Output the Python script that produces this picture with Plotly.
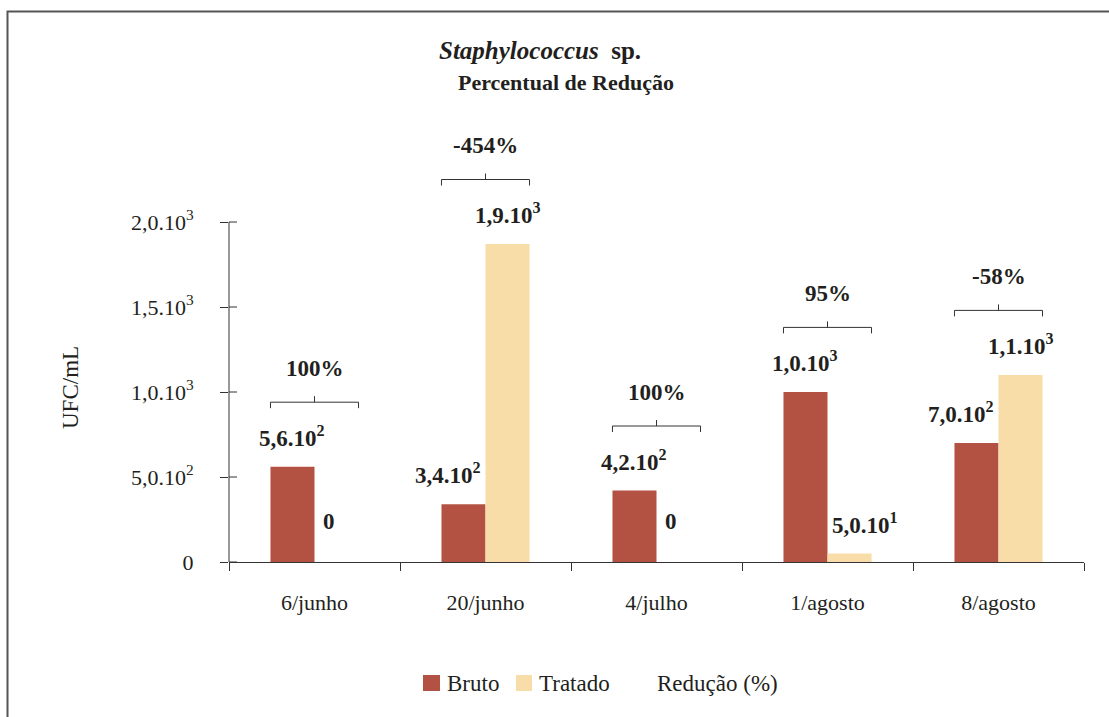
import math
import plotly.graph_objects as go

datas = ["6/junho", "20/junho", "4/julho", "1/agosto", "8/agosto"]
bruto = [560, 340, 420, 1000, 700]
tratado = [0, 1870, 0, 50, 1100]
reducao = [100, -454, 100, 95, -58]
y_ticks = [0, 500, 1000, 1500, 2000]

cor_bruto = '#B35243'
cor_tratado = '#F8DDA9'
cor_texto = '#231F20'
cor_eixo = '#333333'
fonte = 'Liberation Serif, Times New Roman, serif'

W, H = 1109, 717
L, R, T, B = 229, 25, 100, 155
# 85 px for every 500 UFC/mL, same scale as the original
Y_MAX = (H - T - B) * 500 / 85
BAR_GAP = 0.485
MEIA = (1 - BAR_GAP) / 2   # width of one bar, category units


def px_x(p):
    return (p - L) / (W - L - R)


def px_y(p):
    return (H - B - p) / (H - T - B)


def fmt(v):
    if v == 0:
        return "0"
    e = int(math.floor(math.log10(v)))
    m = "{:.1f}".format(v / 10 ** e).replace(".", ",")
    return m + ".10<sup>" + str(e) + "</sup>"


def f(size):
    return dict(family=fonte, size=size, color=cor_texto)


fig = go.Figure()
fig.add_trace(go.Bar(x=datas, y=bruto, name='Bruto', marker_color=cor_bruto,
                     marker_line_width=0))
fig.add_trace(go.Bar(x=datas, y=tratado, name='Tratado', marker_color=cor_tratado,
                     marker_line_width=0))

fig.update_layout(
    width=W, height=H,
    margin=dict(l=L, r=R, t=T, b=B),
    barmode='group',
    bargap=BAR_GAP,
    bargroupgap=0,
    showlegend=False,
    paper_bgcolor='white',
    plot_bgcolor='white',
    font=f(23),
)
fig.update_xaxes(
    type='category',
    range=[-0.5, len(datas) - 0.5],
    tickson='boundaries',
    ticks='outside', ticklen=8, tickcolor=cor_eixo,
    showline=True, linecolor=cor_eixo, linewidth=1,
    showgrid=False,
    ticklabelstandoff=21,
    tickfont=f(22),
)
fig.update_yaxes(
    range=[0, Y_MAX],
    tickvals=y_ticks,
    ticktext=[fmt(v) for v in y_ticks],
    ticks='outside', ticklen=8, tickcolor=cor_eixo,
    showline=False, showgrid=False, zeroline=False,
    ticklabelstandoff=22,
    tickfont=f(22),
)

# y axis line only up to the last tick, plus the inner half of each tick
fig.add_shape(type='line', xref='paper', yref='y', x0=0, x1=0, y0=0, y1=y_ticks[-1],
              line=dict(color=cor_eixo, width=1))
for v in y_ticks:
    fig.add_shape(type='line', xref='paper', yref='y', x0=0, x1=px_x(L + 8), y0=v, y1=v,
                  line=dict(color=cor_eixo, width=1))

# value labels
for i in range(len(datas)):
    b, t = bruto[i], tratado[i]
    dx_b = -15 if t > b else 0
    if t == 0:
        dx_t = -8
    elif t < b:
        dx_t = 15
    else:
        dx_t = 0
    for v, xc, dx in ((b, i - MEIA / 2, dx_b), (t, i + MEIA / 2, dx_t)):
        fig.add_annotation(x=xc, y=v, text="<b>" + fmt(v) + "</b>",
                           showarrow=False, xanchor='center', yanchor='bottom',
                           xshift=dx, yshift=26 if v == 0 else 14,
                           font=f(23))

    # bracket with the reduction percentage
    yb = max(b, t) + 380
    tick = 6 * 500 / 85
    linha = dict(color=cor_eixo, width=1)
    fig.add_shape(type='line', x0=i - MEIA, x1=i + MEIA, y0=yb, y1=yb, line=linha)
    fig.add_shape(type='line', x0=i - MEIA, x1=i - MEIA, y0=yb - tick, y1=yb, line=linha)
    fig.add_shape(type='line', x0=i + MEIA, x1=i + MEIA, y0=yb - tick, y1=yb, line=linha)
    fig.add_shape(type='line', x0=i, x1=i, y0=yb, y1=yb + tick, line=linha)
    fig.add_annotation(x=i, y=yb, text="<b>{}%</b>".format(reducao[i]),
                       showarrow=False, xanchor='center', yanchor='middle',
                       yshift=34, font=f(23))

# titles
fig.add_annotation(xref='paper', yref='paper', x=px_x(540), y=px_y(50),
                   text="<b><i>Staphylococcus</i>\u00a0\u00a0sp.</b>",
                   showarrow=False, xanchor='center', yanchor='middle',
                   font=f(25))
fig.add_annotation(xref='paper', yref='paper', x=px_x(566), y=px_y(82),
                   text="<b>Percentual de Redução</b>",
                   showarrow=False, xanchor='center', yanchor='middle',
                   font=f(22))
fig.add_annotation(xref='paper', yref='paper', x=px_x(70), y=px_y(388),
                   text="UFC/mL", textangle=-90,
                   showarrow=False, xanchor='center', yanchor='middle',
                   font=f(23))

# legend drawn by hand, swatches as in the original
for x0, x1, cor in ((423, 440, cor_bruto), (516, 532, cor_tratado)):
    fig.add_shape(type='rect', xref='paper', yref='paper',
                  x0=px_x(x0), x1=px_x(x1), y0=px_y(675), y1=px_y(691),
                  fillcolor=cor, line_width=0)
for xt, txt in ((445, 'Bruto'), (537, 'Tratado'), (655, 'Redução (%)')):
    fig.add_annotation(xref='paper', yref='paper', x=px_x(xt), y=px_y(683),
                       text=txt, showarrow=False, xanchor='left', yanchor='middle',
                       font=f(23))

# chart frame
fig.add_shape(type='rect', xref='paper', yref='paper',
              x0=px_x(7.5), x1=px_x(1125), y0=px_y(11.5), y1=px_y(735),
              line=dict(color='#555555', width=2), fillcolor='rgba(0,0,0,0)')

# page has an 8px body margin by default; drop it so the figure sits at 0,0
fig.write_html("out.html", config={'displayModeBar': False},
               post_script="document.body.style.margin='0px';")
